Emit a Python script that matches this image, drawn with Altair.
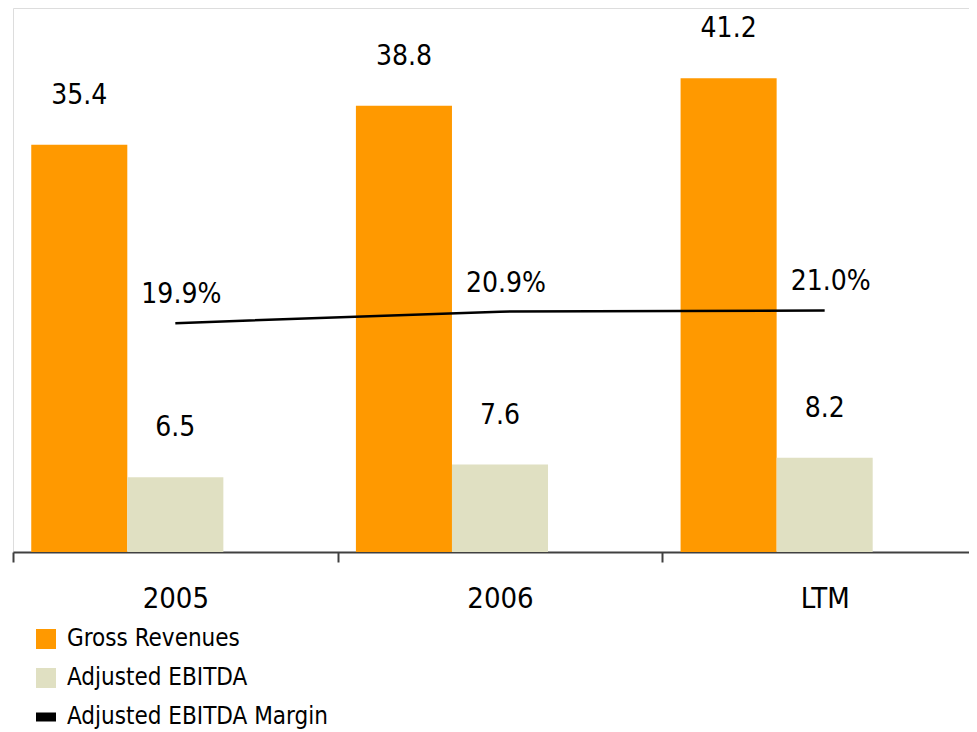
import altair as alt
import pandas as pd

years = ["2005", "2006", "LTM"]
gross_revenues = [35.4, 38.8, 41.2]
adjusted_ebitda = [6.5, 7.6, 8.2]
ebitda_margin = [19.9, 20.9, 21.0]

series_names = ["Gross Revenues", "Adjusted EBITDA", "Adjusted EBITDA Margin"]
series_colors = ["#FF9900", "#E0E0C2", "#000000"]
series_shapes = ["square", "square", "M-1,-0.45H1V0.45H-1Z"]

FONT = "'DejaVu Sans Condensed', 'Liberation Sans', sans-serif"

bars_df = pd.DataFrame({
    "year": years * 2,
    "series": [series_names[0]] * 3 + [series_names[1]] * 3,
    "value": gross_revenues + adjusted_ebitda,
})
margin_df = pd.DataFrame({"year": years, "margin": ebitda_margin})
legend_df = pd.DataFrame({"series": series_names})

x_enc = alt.X(
    "year:N",
    sort=years,
    scale=alt.Scale(domain=years, range=[0, 974], paddingInner=0, paddingOuter=0),
    axis=alt.Axis(
        title=None, labelAngle=0, labelFontSize=29, labelColor="black", labelFont=FONT,
        labelPadding=22, tickSize=10, tickBand="extent", domainColor="#404040",
        tickColor="#404040", domainWidth=2, tickWidth=2, grid=False,
    ),
)
y_scale = alt.Scale(domain=[0, 47.3], nice=False, zero=True)
xoff = alt.XOffset(
    "series:N",
    scale=alt.Scale(domain=series_names, paddingOuter=0.19, paddingInner=0),
)

legend = alt.Legend(
    orient="none", legendX=21, legendY=619, title=None,
    labelFontSize=24, labelFont=FONT, labelColor="black", labelLimit=600,
    symbolSize=400, labelOffset=9, rowPadding=15, padding=0,
    symbolStrokeWidth=0, symbolOpacity=1,
)

bars = alt.Chart(bars_df).mark_bar().encode(
    x=x_enc,
    xOffset=xoff,
    y=alt.Y("value:Q", scale=y_scale, axis=None),
    color=alt.Color("series:N", scale=alt.Scale(domain=series_names, range=series_colors), legend=None),
)

bar_labels = alt.Chart(bars_df).mark_text(
    baseline="alphabetic", align="center", dy=-41, fontSize=28, font=FONT, color="black"
).encode(
    x=x_enc,
    xOffset=xoff,
    y=alt.Y("value:Q", scale=y_scale, axis=None),
    text=alt.Text("value:Q", format=".1f"),
)

line = alt.Chart(margin_df).mark_line(color="black", strokeWidth=2.5).encode(
    x=x_enc,
    y=alt.Y("margin:Q", scale=y_scale, axis=None),
)

line_labels = alt.Chart(margin_df).transform_calculate(
    label="format(datum.margin, '.1f') + '%'"
).mark_text(
    baseline="alphabetic", align="center", dx=6, dy=-20, fontSize=28, font=FONT, color="black"
).encode(
    x=x_enc,
    y=alt.Y("margin:Q", scale=y_scale, axis=None),
    text="label:N",
)

legend_layer = alt.Chart(legend_df).mark_point(filled=True, opacity=0, size=400).encode(
    color=alt.Color("series:N", scale=alt.Scale(domain=series_names, range=series_colors), legend=legend),
    shape=alt.Shape("series:N", scale=alt.Scale(domain=series_names, range=series_shapes), legend=legend),
)

chart = alt.layer(bars, bar_labels, line, line_labels, legend_layer).resolve_scale(
    color="independent", shape="independent"
).properties(
    width=956, height=544,
    autosize=alt.AutoSizeParams(type="none"),
    padding={"left": 5, "top": 0, "right": 0, "bottom": 180},
).configure_view(stroke=None).configure(font=FONT)

chart.save("out.html", embed_options={"renderer": "svg", "actions": False})
